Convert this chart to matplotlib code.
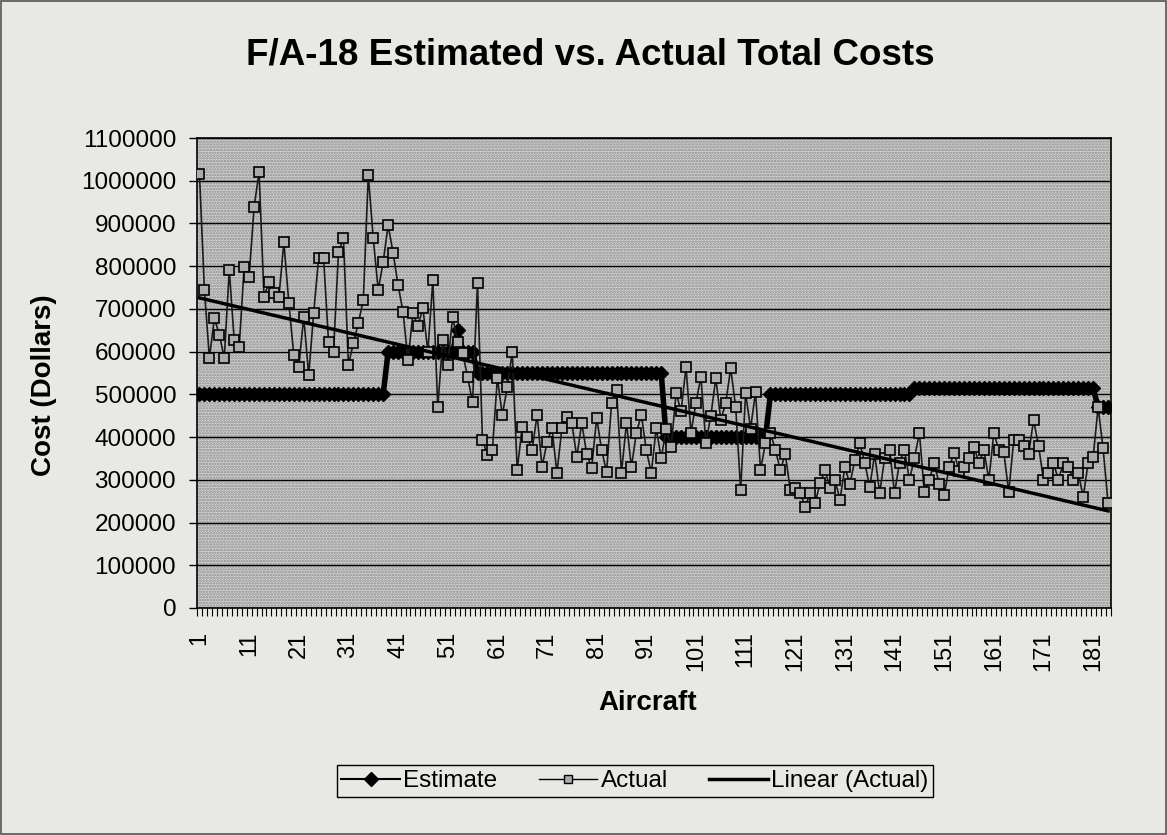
import matplotlib
matplotlib.use("Agg")
import matplotlib.pyplot as plt
import numpy as np
from matplotlib.lines import Line2D
from matplotlib.patches import Rectangle


# =========================
# DATOS
# =========================

TITLE = "F/A-18 Estimated vs. Actual Total Costs"
X_LABEL = "Aircraft"
Y_LABEL = "Cost (Dollars)"

aircraft = np.arange(1, 185)

# Estimacion por bloques de aviones
estimate = (
    [500000] * 38
    + [600000] * 14 + [650000] + [600000] * 3
    + [550000] * 38
    + [400000] * 21
    + [500000] * 29
    + [515000] * 37
    + [470000] * 3
)

actual = [
    1015000, 744000, 585000, 678000, 640000, 585000, 791000, 627000, 610000, 798000,
    775000, 938000, 1020000, 728000, 763000, 737000, 728000, 856000, 714000, 592000,
    564000, 681000, 545000, 690000, 819000, 819000, 622000, 600000, 833000, 866000,
    569000, 620000, 667000, 721000, 1013000, 866000, 744000, 810000, 896000, 831000,
    756000, 693000, 580000, 690000, 660000, 702000, 600000, 767000, 470000, 627000,
    569000, 681000, 622000, 597000, 541000, 482000, 760000, 393000, 358000, 370000,
    538000, 452000, 517000, 599000, 323000, 424000, 400000, 370000, 452000, 330000,
    388000, 421000, 316000, 421000, 447000, 433000, 353000, 433000, 360000, 328000,
    445000, 370000, 318000, 480000, 510000, 316000, 433000, 330000, 410000, 452000,
    370000, 316000, 421000, 350000, 420000, 377000, 503000, 460000, 564000, 410000,
    480000, 541000, 386000, 450000, 538000, 440000, 480000, 561000, 470000, 276000,
    503000, 420000, 505000, 323000, 386000, 410000, 370000, 323000, 360000, 276000,
    280000, 270000, 236000, 270000, 246000, 292000, 323000, 280000, 300000, 253000,
    330000, 290000, 346000, 386000, 340000, 283000, 360000, 269000, 350000, 370000,
    269000, 340000, 370000, 300000, 350000, 410000, 271000, 300000, 339000, 290000,
    264000, 330000, 363000, 320000, 330000, 350000, 377000, 340000, 370000, 300000,
    410000, 370000, 365000, 271000, 393000, 393000, 380000, 360000, 440000, 380000,
    300000, 316000, 340000, 300000, 339000, 330000, 300000, 316000, 260000, 340000,
    353000, 470000, 374000, 246000,
]

y_ticks = list(range(0, 1100001, 100000))
y_tick_labels = [str(v) for v in y_ticks]
x_tick_pos = list(range(1, 182, 10))
x_tick_labels = [str(v) for v in x_tick_pos]

BG = "#e8e9e4"


def main() -> None:
    plt.rcParams["font.family"] = ["Liberation Sans", "DejaVu Sans"]
    plt.rcParams["hatch.linewidth"] = 1.2

    fig = plt.figure(figsize=(11.67, 8.35), dpi=100)
    fig.patch.set_facecolor(BG)
    fig.patches.append(Rectangle((0.001, 0.001), 0.998, 0.998, transform=fig.transFigure,
                                 fill=False, edgecolor="#555555", lw=1.2))

    ax = fig.add_axes([0.1688, 0.2719, 0.9516 - 0.1688, 0.8347 - 0.2719])
    ax.set_facecolor("#d2d2d2")
    # textura punteada del area de trazado
    ax.add_patch(Rectangle((0, 0), 1, 1, transform=ax.transAxes, facecolor="none",
                           edgecolor="#8c8c8c", hatch="......", lw=0, zorder=0))

    ax.plot(aircraft, estimate, color="black", lw=4, marker="D", ms=7,
            label="Estimate", zorder=3)
    ax.plot(aircraft, actual, color="#1a1a1a", lw=1.2, marker="s", ms=7.5,
            mfc="#ababab", mec="black", mew=1.2, label="Actual", zorder=4)

    coef = np.polyfit(aircraft, actual, 1)
    ax.plot(aircraft, np.polyval(coef, aircraft), color="black", lw=2.5,
            label="Linear (Actual)", zorder=5)

    ax.set_xlim(0.5, 184.5)
    ax.set_ylim(0, 1100000)
    ax.set_yticks(y_ticks)
    ax.set_yticklabels(y_tick_labels, fontsize=17.5)
    ax.set_xticks(x_tick_pos)
    ax.set_xticklabels(x_tick_labels, rotation=90, fontsize=17)
    ax.set_xticks(np.arange(0.5, 185, 1), minor=True)
    ax.tick_params(axis="x", which="major", length=0, pad=17)
    ax.tick_params(axis="x", which="minor", length=6, width=0.8, direction="out")
    ax.tick_params(axis="y", which="major", length=6, width=1, direction="out", pad=9)

    ax.yaxis.grid(True, color="black", lw=1)
    ax.set_axisbelow(True)
    for sp in ax.spines.values():
        sp.set_color("black")
        sp.set_linewidth(1.2)

    fig.text(0.5056, 0.934, TITLE, ha="center", va="center", fontsize=26.5, fontweight="bold")
    fig.text(0.038, 1 - 385 / 835, Y_LABEL, ha="center", va="center", rotation=90,
             fontsize=20, fontweight="bold")
    fig.text(648 / 1167, 0.158, X_LABEL, ha="center", va="center", fontsize=20,
             fontweight="bold")

    handles = [
        Line2D([], [], color="black", lw=1.5, marker="D", ms=7),
        Line2D([], [], color="black", lw=1, marker="s", ms=6, mfc="#ababab", mec="black"),
        Line2D([], [], color="black", lw=2.5),
    ]
    leg = fig.legend(handles, ["Estimate", "Actual", "Linear (Actual)"], loc="center",
                     bbox_to_anchor=(635 / 1167, 1 - 781 / 835), ncol=3, fontsize=17.5,
                     frameon=True, fancybox=False, edgecolor="black", facecolor=BG,
                     framealpha=1, handlelength=2.4, handletextpad=0.15,
                     columnspacing=1.7, borderpad=0.2)
    leg.get_frame().set_linewidth(1)

    fig.savefig("out.png", dpi=100, facecolor=BG)


if __name__ == "__main__":
    main()
